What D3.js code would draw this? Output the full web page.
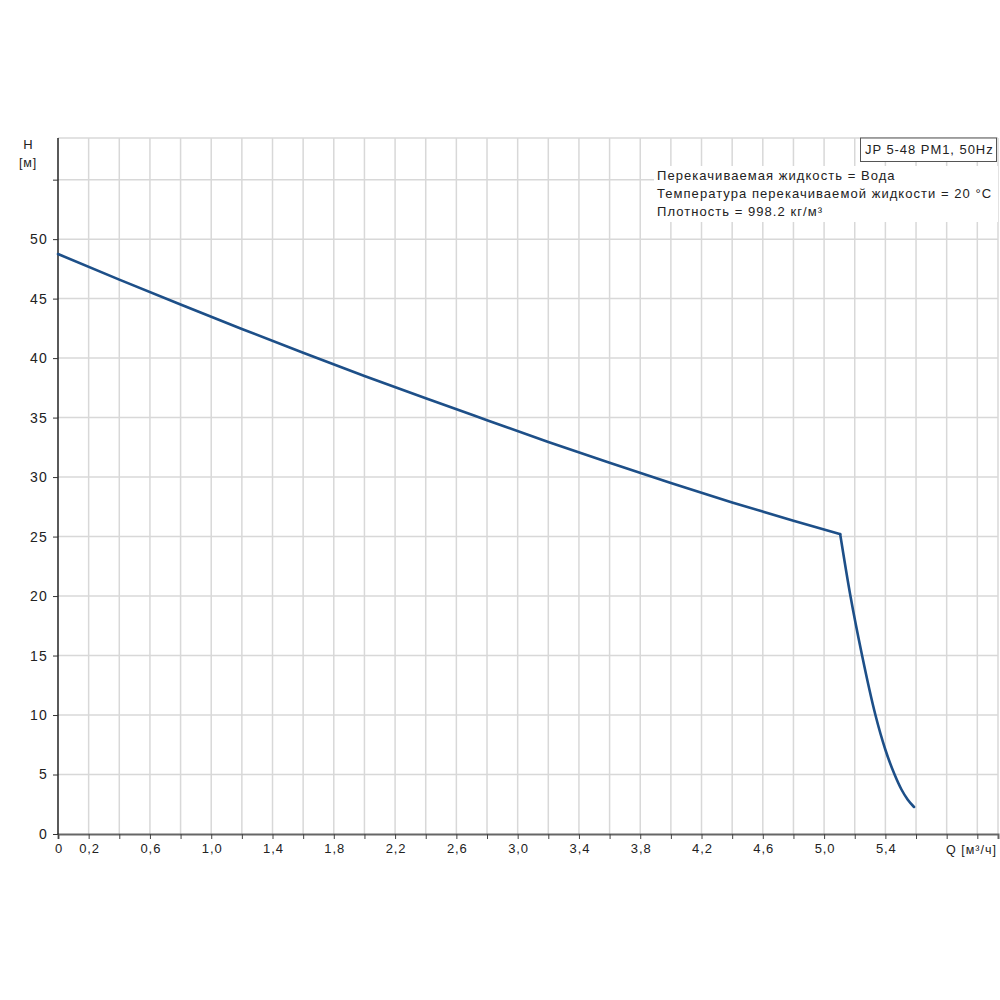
<!DOCTYPE html>
<html>
<head>
<meta charset="utf-8">
<script src="https://cdn.jsdelivr.net/npm/d3@7"></script>
<style>
  body { margin: 0; background: #fff; }
  svg { display: block; }
  text { font-family: "Liberation Sans", Arial, sans-serif; fill: #222; }
</style>
</head>
<body>
<script>
'use strict';

// pump curve (Q m3/h, H m)
var flowMain = [0, 0.4, 0.8, 1.2, 1.6, 2.0, 2.4, 2.8, 3.2, 3.6, 4.0, 4.4, 4.8, 5.105];
var headMain = [48.75, 46.6, 44.5, 42.45, 40.45, 38.5, 36.62, 34.78, 32.95, 31.2, 29.5, 27.87, 26.33, 25.2];
var flowDrop = [5.105, 5.172, 5.248, 5.335, 5.4, 5.46, 5.505, 5.545, 5.587];
var headDrop = [25.2, 20.0, 15.0, 10.0, 7.08, 5.0, 3.74, 2.9, 2.27];

var xLabels = [0, 0.2, 0.6, 1.0, 1.4, 1.8, 2.2, 2.6, 3.0, 3.4, 3.8, 4.2, 4.6, 5.0, 5.4];
var yLabels = [0, 5, 10, 15, 20, 25, 30, 35, 40, 45, 50];
var infoLines = ['Перекачиваемая жидкость = Вода', 'Температура перекачиваемой жидкости = 20 °C', 'Плотность = 998.2 кг/м³'];
var legendTitle = 'JP 5-48 PM1, 50Hz';

var W = 1000, H = 1000;
var pLeft = 58, pRight = 998, pTop = 138, pBottom = 834;

var svg = d3.select('body').append('svg').attr('width', W).attr('height', H);

var x = d3.scaleLinear().domain([0, 6.135]).range([pLeft, pRight]);
var y = d3.scaleLinear().domain([0, 58.5]).range([pBottom, pTop]);

var fmt = function (v) { return v === 0 ? '0' : d3.format('.1f')(v).replace('.', ','); };

// grid
var xGrid = d3.range(1, 31).map(function (i) { return i * 0.2; });
var yGrid = d3.range(1, 12).map(function (i) { return i * 5; });
var grid = svg.append('g').attr('stroke', '#d8d8d8').attr('stroke-width', 1.5);
grid.selectAll('.gx').data(xGrid).enter().append('line')
  .attr('x1', function (d) { return x(d); }).attr('x2', function (d) { return x(d); })
  .attr('y1', pTop).attr('y2', pBottom);
grid.selectAll('.gy').data(yGrid).enter().append('line')
  .attr('x1', pLeft).attr('x2', pRight)
  .attr('y1', function (d) { return y(d); }).attr('y2', function (d) { return y(d); });
grid.append('line').attr('x1', pLeft).attr('x2', pRight).attr('y1', pTop).attr('y2', pTop);
grid.append('line').attr('x1', pRight).attr('x2', pRight).attr('y1', pTop).attr('y2', pBottom);

// white boxes for the info text and the legend
svg.append('rect').attr('x', 654).attr('y', 166).attr('width', pRight - 654).attr('height', 56).attr('fill', '#fff');
svg.append('rect').attr('x', 860.5).attr('y', 138).attr('width', 136).attr('height', 23.5)
  .attr('fill', '#fff').attr('stroke', '#555').attr('stroke-width', 1);
svg.append('text').attr('x', 865).attr('y', 154).attr('font-size', 13).attr('letter-spacing', 0.95).text(legendTitle);
svg.selectAll('.info').data(infoLines).enter().append('text')
  .attr('x', 657).attr('y', function (d, i) { return 180 + i * 18; })
  .attr('font-size', 13).attr('letter-spacing', 1.05).text(function (d) { return d; });

// axes
var xAxis = d3.axisBottom(x).tickValues([0].concat(xGrid.filter(function (d) { return d < 6.1; })))
  .tickSize(5).tickFormat(function (d) {
    return xLabels.some(function (v) { return Math.abs(v - d) < 1e-6; }) ? fmt(d) : '';
  });
var gx = svg.append('g').attr('transform', 'translate(0,' + pBottom + ')').call(xAxis);
gx.select('.domain').attr('stroke', '#666').attr('stroke-width', 2);
gx.selectAll('.tick line').attr('stroke', '#444');
gx.selectAll('.tick text').attr('font-size', 13).attr('letter-spacing', 0.9).attr('dx', 0.45)
  .attr('dy', '0.85em').attr('fill', '#222')
  .attr('font-family', '"Liberation Sans", Arial, sans-serif');

var yAxis = d3.axisLeft(y).tickValues(yLabels.concat([55])).tickSize(5)
  .tickFormat(function (d) { return d === 55 ? '' : d; });
var gy = svg.append('g').attr('transform', 'translate(' + pLeft + ',0)').call(yAxis);
gy.select('.domain').attr('stroke', '#000').attr('stroke-width', 1.3).attr('d', 'M0,' + pTop + 'V' + pBottom);
gy.selectAll('.tick line').attr('stroke', '#333');
gy.selectAll('.tick text').attr('font-size', 14).attr('letter-spacing', 1.2).attr('x', -10).attr('fill', '#222')
  .attr('font-family', '"Liberation Sans", Arial, sans-serif');

svg.append('text').attr('x', 28).attr('y', 149).attr('text-anchor', 'middle').attr('font-size', 13).text('H');
svg.append('text').attr('x', 28).attr('y', 167).attr('text-anchor', 'middle').attr('font-size', 12.5).attr('letter-spacing', 0.8).text('[м]');
svg.append('text').attr('x', 997).attr('y', 854).attr('text-anchor', 'end').attr('font-size', 12.5).attr('letter-spacing', 1).text('Q [м³/ч]');

// curve
var line = d3.line().x(function (d) { return x(d[0]); }).y(function (d) { return y(d[1]); }).curve(d3.curveMonotoneX);
var mainPts = flowMain.map(function (q, i) { return [q, headMain[i]]; });
var dropPts = flowDrop.map(function (q, i) { return [q, headDrop[i]]; });
[mainPts, dropPts].forEach(function (pts) {
  svg.append('path').datum(pts).attr('d', line)
    .attr('fill', 'none').attr('stroke', '#1d4f88').attr('stroke-width', 2.6)
    .attr('stroke-linecap', 'round').attr('stroke-linejoin', 'round');
});
</script>
</body>
</html>
